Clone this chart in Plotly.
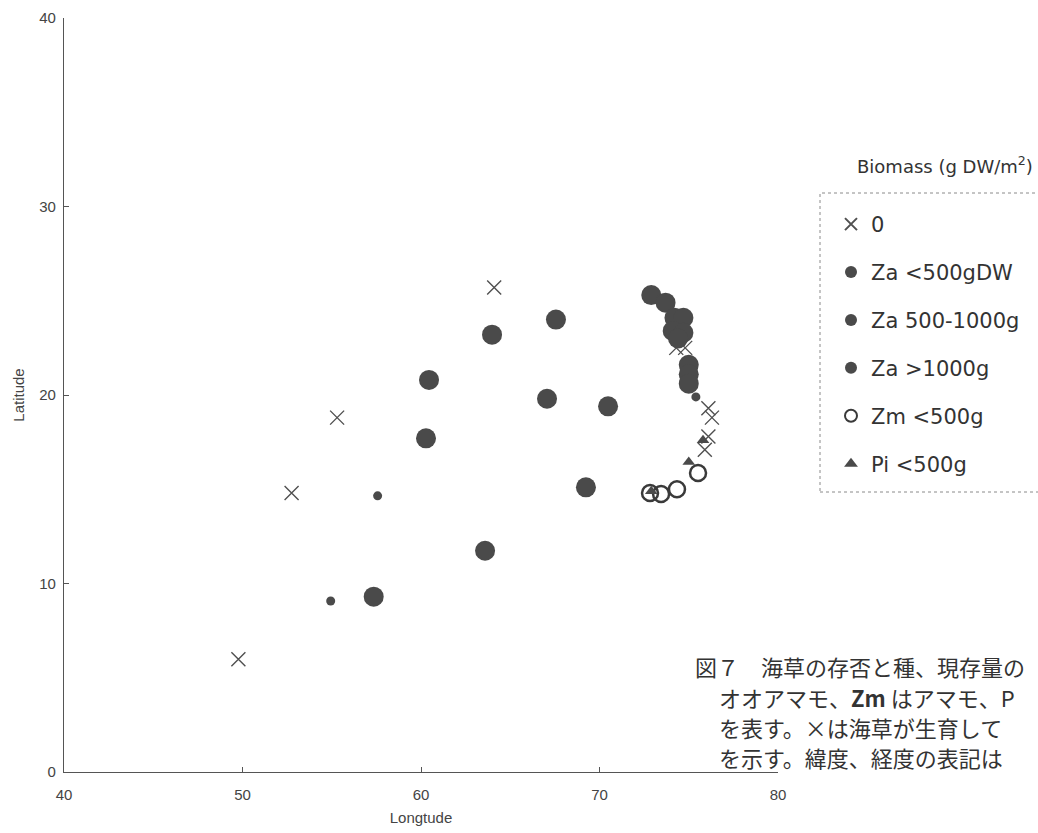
import plotly.graph_objects as go

# ---- data ----
zero_lon = [64.1, 55.3, 52.75, 49.77, 74.3, 74.8, 76.1, 76.3, 76.1, 75.9]
zero_lat = [25.7, 18.8, 14.8, 5.98, 22.5, 22.5, 19.3, 18.8, 17.8, 17.1]

za_small_lon = [57.57, 54.94, 75.4]
za_small_lat = [14.65, 9.07, 19.9]

za_mid_lon = [63.98, 67.56, 60.45, 67.06, 70.48, 60.28, 69.24, 63.59, 57.35]
za_mid_lat = [23.2, 24.0, 20.8, 19.8, 19.4, 17.7, 15.1, 11.74, 9.3]

za_big_lon = [72.9, 73.7, 74.2, 74.7, 74.1, 74.7, 74.4, 75.0, 75.0, 75.0]
za_big_lat = [25.3, 24.9, 24.1, 24.1, 23.4, 23.3, 23.0, 21.6, 21.1, 20.6]

zm_lon = [72.83, 73.45, 74.34, 75.52]
zm_lat = [14.8, 14.75, 15.0, 15.86]

pi_lon = [72.9, 75.0, 75.8]
pi_lat = [14.9, 16.45, 17.6]

legend_names = ["0", "Za <500gDW", "Za 500-1000g", "Za >1000g", "Zm <500g", "Pi <500g"]

caption_lines = [
    "図７　海草の存否と種、現存量の",
    "オオアマモ、<b>Zm</b> はアマモ、P",
    "を表す。×は海草が生育して",
    "を示す。緯度、経度の表記は",
]

FILL = "#4a4a4a"
EDGE = "#3a3a3a"
FONT = "Liberation Sans, Arial, sans-serif"
WIDE = "DejaVu Sans, sans-serif"

fig = go.Figure()

fig.add_trace(go.Scatter(
    x=zero_lon, y=zero_lat, mode="markers", name=legend_names[0], legendgroup="g0",
    marker=dict(symbol="x-thin-open", size=14, color="#505050",
                line=dict(color="#505050", width=1.4)),
))
fig.add_trace(go.Scatter(
    x=za_small_lon, y=za_small_lat, mode="markers", name=legend_names[1], legendgroup="g1",
    marker=dict(symbol="circle", size=9, color=FILL, line=dict(width=0)),
))
fig.add_trace(go.Scatter(
    x=za_mid_lon, y=za_mid_lat, mode="markers", name=legend_names[2], legendgroup="g2",
    marker=dict(symbol="circle", size=20, color=FILL, line=dict(width=0)),
))
fig.add_trace(go.Scatter(
    x=za_big_lon, y=za_big_lat, mode="markers", name=legend_names[3], legendgroup="g3",
    marker=dict(symbol="circle", size=20, color=FILL, line=dict(width=0)),
))
fig.add_trace(go.Scatter(
    x=zm_lon, y=zm_lat, mode="markers", name=legend_names[4], legendgroup="g4",
    marker=dict(symbol="circle-open", size=16, color=EDGE, line=dict(color=EDGE, width=2.5)),
))
fig.add_trace(go.Scatter(
    x=pi_lon, y=pi_lat, mode="markers", name=legend_names[5], legendgroup="g5",
    marker=dict(symbol="triangle-up", size=11, color=FILL, line=dict(width=0)),
))

L, R, T, B = 64, 260, 18, 61
W, H = 1038, 833
pw, ph = W - L - R, H - T - B

def px(xp):
    return (xp - L) / pw

def py(yp):
    return (H - B - yp) / ph

fig.add_shape(type="rect", xref="paper", yref="paper",
              x0=px(820), x1=px(1060), y0=py(492), y1=py(193),
              line=dict(color="#8a8a8a", width=1, dash="dot"))

fig.add_annotation(xref="paper", yref="paper", x=px(855), y=py(165),
                   xanchor="left", yanchor="middle", showarrow=False,
                   text="Biomass (g DW/m<sup>2</sup>)",
                   font=dict(size=18, color="#333333", family=WIDE))

cap_x = [693, 717, 717, 717]
cap_y = [666, 697, 727, 757]
for t, xx, yy in zip(caption_lines, cap_x, cap_y):
    fig.add_annotation(xref="paper", yref="paper", x=px(xx), y=py(yy),
                       xanchor="left", yanchor="middle", showarrow=False, text=t,
                       font=dict(size=22, color="#333333", family="Noto Sans CJK JP"))

axis_common = dict(showline=True, linecolor="#555555", linewidth=1.2, mirror=False,
                   ticks="inside", ticklen=5, tickcolor="#555555", showgrid=False,
                   zeroline=False, automargin=False,
                   tickfont=dict(size=15, color="#444444", family=FONT))

fig.update_layout(
    width=W, height=H,
    margin=dict(l=L, r=R, t=T, b=B, pad=0, autoexpand=False),
    paper_bgcolor="white", plot_bgcolor="white",
    xaxis=dict(range=[40, 80], tickvals=[40, 50, 60, 70, 80], ticklabelstandoff=9,
               title=dict(text="Longtude", font=dict(size=15, color="#444444", family=FONT),
                          standoff=10),
               **axis_common),
    yaxis=dict(range=[0, 40], tickvals=[0, 10, 20, 30, 40], ticklabelstandoff=4,
               title=dict(text="Latitude", font=dict(size=15, color="#444444", family=FONT),
                          standoff=10),
               **axis_common),
    showlegend=True,
    legend=dict(x=px(831), y=py(204), xanchor="left", yanchor="top",
                bgcolor="rgba(0,0,0,0)", borderwidth=0,
                font=dict(size=21, color="#333333", family=WIDE),
                tracegroupgap=17.6, itemsizing="constant"),
)

fig.write_html("out.html", config={"displayModeBar": False},
               post_script="document.body.style.margin='0';document.body.style.overflow='hidden';")
